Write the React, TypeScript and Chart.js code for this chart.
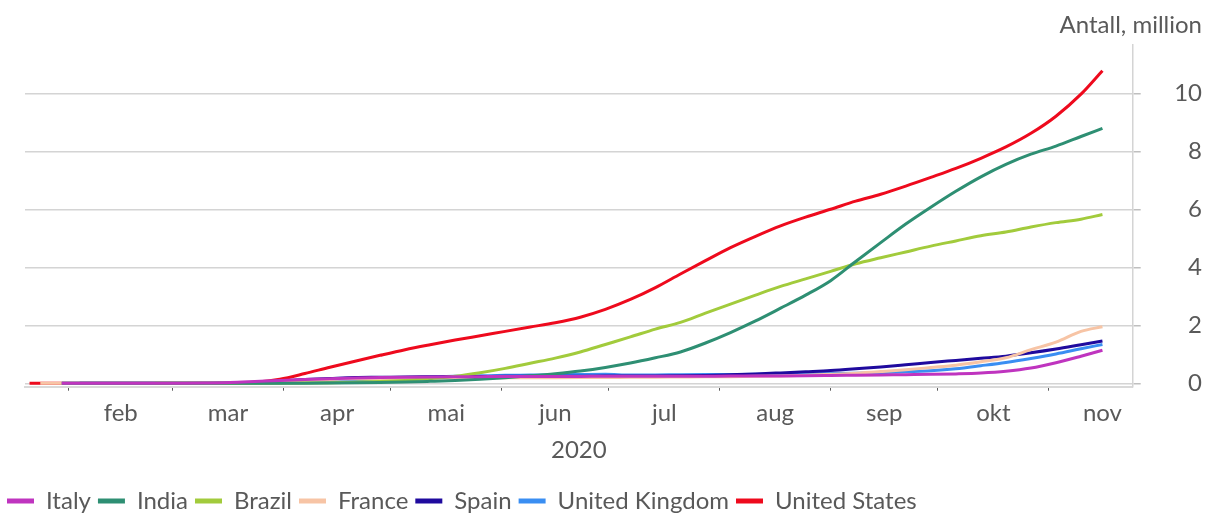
import React, { useEffect, useRef } from "react";
import { Chart, registerables } from "chart.js";

Chart.register(...registerables);

// x values: day of year 2020 (Jan 1 = 0), sampled weekly
const days = [20, 23, 29, 34, 41, 48, 55, 62, 69, 76, 83, 90, 97, 104, 111, 118, 125, 132, 139, 146, 153, 160, 167, 174, 181, 188, 195, 202, 209, 216, 223, 230, 237, 244, 251, 258, 265, 272, 279, 286, 293, 300, 307, 314, 320];

// cumulative cases, millions
const italy = [null, null, 0, 0, 0, 0, 0.0002, 0.0017, 0.0074, 0.0247, 0.0597, 0.0975, 0.129, 0.156, 0.179, 0.197, 0.21, 0.219, 0.225, 0.229, 0.233, 0.235, 0.237, 0.239, 0.24, 0.241, 0.243, 0.244, 0.246, 0.248, 0.251, 0.254, 0.259, 0.268, 0.278, 0.288, 0.298, 0.308, 0.325, 0.354, 0.414, 0.525, 0.71, 0.935, 1.14];
const india = [null, null, 0, 0, 0, 0, 0, 0, 0, 0.0001, 0.0004, 0.001, 0.0036, 0.0092, 0.017, 0.027, 0.042, 0.067, 0.096, 0.138, 0.19, 0.257, 0.333, 0.426, 0.548, 0.697, 0.879, 1.08, 1.39, 1.75, 2.15, 2.59, 3.04, 3.54, 4.2, 4.85, 5.49, 6.07, 6.62, 7.12, 7.55, 7.9, 8.18, 8.51, 8.79];
const brazil = [null, null, null, null, null, null, 0, 0, 0, 0.0002, 0.0015, 0.0041, 0.011, 0.022, 0.039, 0.062, 0.101, 0.163, 0.241, 0.363, 0.514, 0.691, 0.868, 1.08, 1.34, 1.6, 1.87, 2.1, 2.42, 2.73, 3.04, 3.34, 3.6, 3.86, 4.12, 4.33, 4.53, 4.73, 4.91, 5.09, 5.22, 5.39, 5.54, 5.66, 5.82];
const france = [null, 0, 0, 0, 0, 0, 0, 0.0001, 0.0011, 0.0047, 0.016, 0.041, 0.093, 0.133, 0.155, 0.162, 0.169, 0.177, 0.18, 0.183, 0.189, 0.192, 0.195, 0.198, 0.201, 0.206, 0.21, 0.216, 0.222, 0.229, 0.24, 0.256, 0.28, 0.311, 0.349, 0.404, 0.466, 0.544, 0.625, 0.743, 0.88, 1.16, 1.42, 1.79, 1.95];
const spain = [null, null, null, 0, 0, 0, 0, 0.0001, 0.0007, 0.0078, 0.029, 0.08, 0.131, 0.166, 0.198, 0.207, 0.217, 0.224, 0.231, 0.235, 0.24, 0.241, 0.244, 0.246, 0.249, 0.251, 0.254, 0.261, 0.273, 0.297, 0.323, 0.359, 0.398, 0.439, 0.499, 0.566, 0.64, 0.716, 0.789, 0.862, 0.937, 1.05, 1.18, 1.33, 1.46];
const uk = [null, null, 0, 0, 0, 0, 0, 0, 0.0003, 0.0012, 0.0057, 0.0196, 0.048, 0.085, 0.121, 0.153, 0.186, 0.216, 0.244, 0.259, 0.274, 0.285, 0.296, 0.304, 0.311, 0.286, 0.29, 0.295, 0.3, 0.305, 0.311, 0.318, 0.326, 0.334, 0.347, 0.369, 0.395, 0.435, 0.503, 0.607, 0.719, 0.857, 1.01, 1.19, 1.34];
const us = [0, 0, 0, 0, 0, 0, 0, 0.0001, 0.0005, 0.0036, 0.033, 0.14, 0.337, 0.555, 0.76, 0.965, 1.16, 1.33, 1.49, 1.64, 1.79, 1.94, 2.09, 2.28, 2.55, 2.89, 3.3, 3.77, 4.23, 4.68, 5.07, 5.43, 5.73, 6.0, 6.28, 6.52, 6.8, 7.1, 7.41, 7.76, 8.15, 8.62, 9.21, 9.97, 10.78];

const seriesNames = ["Italy", "India", "Brazil", "France", "Spain", "United Kingdom", "United States"];
const seriesValues = [italy, india, brazil, france, spain, uk, us];
const seriesColors = ["#bf34bf", "#2e8f73", "#a2cb3c", "#f7c4a5", "#1f0a9e", "#3a8ef2", "#ee0a1d"];

// month boundaries (tick marks) and month centres (labels)
const monthStarts = [31, 60, 91, 121, 152, 182, 213, 244, 274, 305];
const monthMids = [45.5, 75.5, 106, 136.5, 167, 197.5, 228.5, 259, 289.5, 320];
const monthLabels = ["feb", "mar", "apr", "mai", "jun", "jul", "aug", "sep", "okt", "nov"];
const yearLabel = "2020";

const yTickValues = [0, 1, 2, 3, 4, 5, 6, 7, 8, 9, 10, 11];
const yLabelValues = [0, 2, 4, 6, 8, 10];
const yTitle = "Antall, million";

const FONT = "Lato";
const TEXT = "#595959";
const FS = 24;
const FW = 400;

export default function App() {
  const ref = useRef<HTMLCanvasElement | null>(null);

  useEffect(() => {
    if (!ref.current) return;
    const datasets = seriesNames.map((name, i) => ({
      label: name,
      data: days.map((d, j) => ({ x: d, y: seriesValues[i][j] })),
      borderColor: seriesColors[i],
      backgroundColor: seriesColors[i],
      borderWidth: 3,
      pointRadius: 0,
      cubicInterpolationMode: "monotone" as const,
      fill: false,
      yAxisID: "y",
    }));

    const font = { family: FONT, size: FS, weight: FW as any };

    const chart = new Chart(ref.current, {
      type: "line",
      data: { datasets },
      options: {
        animation: false,
        responsive: true,
        maintainAspectRatio: false,
        parsing: false as any,
        normalized: true,
        layout: { padding: { left: 0, right: 4, top: 0, bottom: 0 } },
        plugins: {
          tooltip: { enabled: false },
          title: {
            display: true,
            text: yTitle,
            align: "end",
            color: TEXT,
            font,
            padding: { top: 11, bottom: 5 },
          },
          legend: {
            position: "bottom",
            align: "start",
            labels: {
              boxWidth: 27,
              boxHeight: 5,
              padding: 7,
              color: TEXT,
              font,
              generateLabels: (c: any) =>
                Chart.defaults.plugins.legend.labels.generateLabels(c).map((it: any) => ({
                  ...it,
                  lineWidth: 0,
                  fillStyle: it.strokeStyle,
                })),
            },
          },
        },
        scales: {
          x: {
            type: "linear",
            position: "bottom",
            min: 18.73,
            max: 328.46,
            afterBuildTicks: (s: any) => {
              const vals = [...monthStarts, ...monthMids].sort((a, b) => a - b);
              s.ticks = vals.map((v) => ({ value: v }));
            },
            afterFit: (s: any) => {
              s.height = 95.3;
            },
            ticks: {
              autoSkip: false,
              maxRotation: 0,
              minRotation: 0,
              padding: 8,
              color: TEXT,
              font,
              callback: (v: any) => {
                const k = monthMids.indexOf(Number(v));
                return k >= 0 ? monthLabels[k] : "";
              },
            },
            grid: {
              drawOnChartArea: false,
              drawTicks: true,
              tickLength: 4,
              tickWidth: 1,
              tickColor: (ctx: any) =>
                ctx.tick && monthStarts.includes(ctx.tick.value) ? "#595959" : "rgba(0,0,0,0)",
            },
            border: { display: true, color: "#d9d9d9", width: 2 },
            title: {
              display: true,
              text: yearLabel,
              color: TEXT,
              font,
              padding: { top: 0, bottom: 17.6 },
            },
          },
          y: {
            type: "linear",
            position: "right",
            min: -0.117,
            max: 11.672,
            afterBuildTicks: (s: any) => {
              s.ticks = yTickValues.map((v) => ({ value: v }));
            },
            afterFit: (s: any) => {
              s.width = 69.3;
            },
            ticks: {
              crossAlign: "far",
              padding: 6,
              color: TEXT,
              font,
              callback: (v: any) => (yLabelValues.includes(Number(v)) ? String(v) : ""),
            },
            grid: {
              color: "#d4d4d4",
              lineWidth: 1.5,
              drawTicks: true,
              tickLength: 8,
              tickColor: "#bfbfbf",
            },
            border: { display: true, color: "#d4d4d4", width: 1.5 },
          },
          yl: {
            type: "linear",
            position: "left",
            display: true,
            afterFit: (s: any) => {
              s.width = 25;
            },
            ticks: { display: false },
            grid: { display: false, drawTicks: false },
            border: { display: false },
          },
        },
      },
    } as any);
    return () => chart.destroy();
  }, []);

  return (
    <div style={{ position: "fixed", left: 0, top: 0, width: "1206px", height: "523px", background: "#fff" }}>
      <canvas ref={ref} />
    </div>
  );
}
